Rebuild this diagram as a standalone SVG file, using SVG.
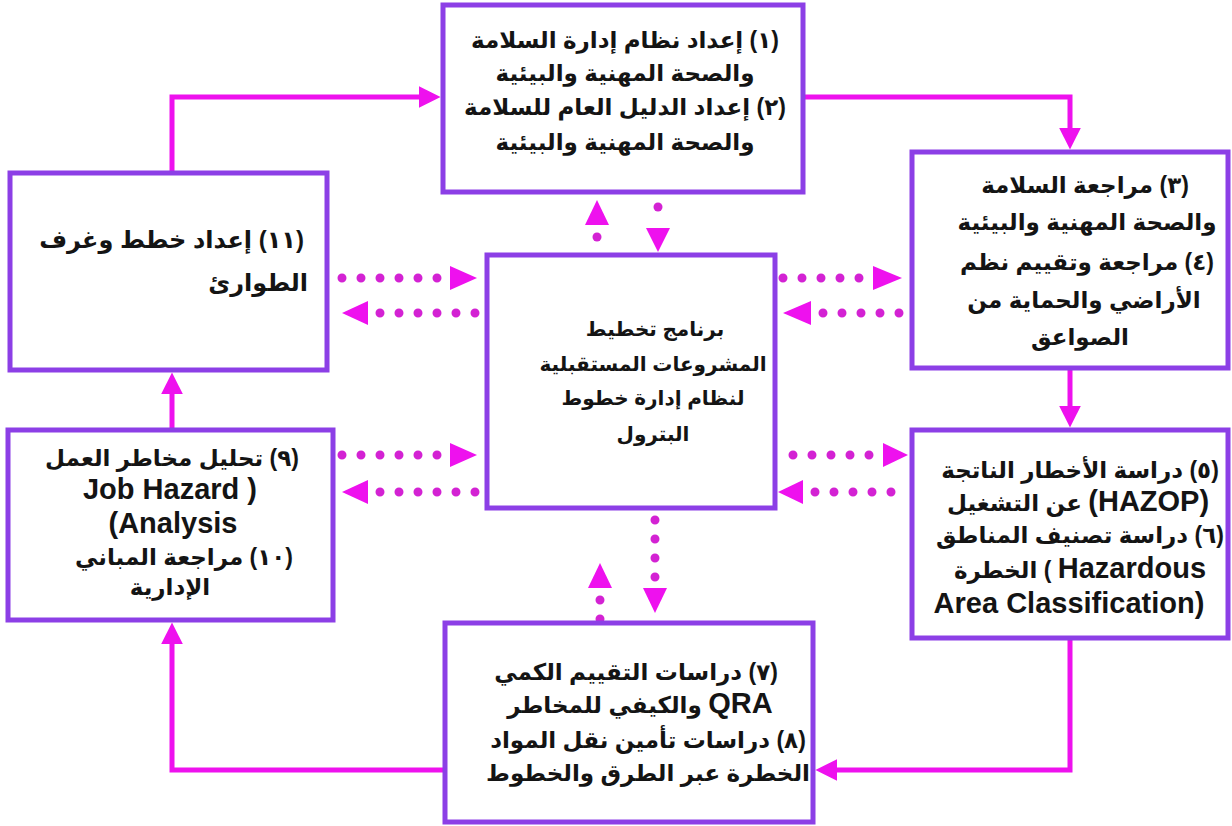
<svg xmlns="http://www.w3.org/2000/svg" width="1232" height="826" viewBox="0 0 1232 826">
  <style>
    .box { fill: #ffffff; stroke: #8c3fe6; stroke-width: 5; }
    .flow { fill: none; stroke: #ee11ee; stroke-width: 5; marker-end: url(#head); }
    .dots { fill: none; stroke: #d322d3; stroke-width: 9; stroke-linecap: round; stroke-dasharray: 0 19; }
    .tri { fill: #ee11ee; }
    text { font-family: "Liberation Sans", "DejaVu Sans", sans-serif; font-weight: bold; font-size: 23px; fill: #141414; }
    .rtl { direction: rtl; text-anchor: middle; }
    .ltr { direction: ltr; text-anchor: middle; }
    .right { direction: rtl; text-anchor: start; }
    .en { font-size: 29px; }
    .mid { font-size: 20px; }
  </style>
  <defs>
    <marker id="head" viewBox="0 0 10 10" refX="2" refY="5" markerWidth="22" markerHeight="22" markerUnits="userSpaceOnUse" orient="auto">
      <path d="M0,0 L10,5 L0,10 z" fill="#ee11ee"/>
    </marker>
  </defs>

  <rect width="1232" height="826" fill="#ffffff"/>

  <!-- solid cycle between the outer boxes -->
  <g id="connectors">
    <path class="flow" d="M172 172 V97 H423"/>
    <path class="flow" d="M803 97 H1070 V132"/>
    <path class="flow" d="M1070 368 V410"/>
    <path class="flow" d="M1070 638 V770 H833"/>
    <path class="flow" d="M445 770 H172 V640"/>
    <path class="flow" d="M172 430 V390"/>

    <!-- dotted two-way links to the central programme -->
    <path class="dots" d="M342 278 H440"/>
    <polygon class="tri" points="450,266 477,278 450,290"/>
    <polygon class="tri" points="342,313 368,301 368,325"/>
    <path class="dots" d="M380 313 H478"/>

    <path class="dots" d="M783 278 H862"/>
    <polygon class="tri" points="873,266 902,278 873,290"/>
    <polygon class="tri" points="783,313 811,301 811,325"/>
    <path class="dots" d="M823 313 H904"/>

    <path class="dots" d="M793 455 H872"/>
    <polygon class="tri" points="883,443 908,455 883,467"/>
    <polygon class="tri" points="778,492 803,480 803,504"/>
    <path class="dots" d="M815 492 H910"/>

    <path class="dots" d="M342 455 H440"/>
    <polygon class="tri" points="450,443 477,455 450,467"/>
    <polygon class="tri" points="342,492 368,480 368,504"/>
    <path class="dots" d="M380 492 H478"/>

    <polygon class="tri" points="597,200 585,225 609,225"/>
    <path class="dots" d="M597 237 V253"/>
    <path class="dots" d="M658 207 V226"/>
    <polygon class="tri" points="646,228 670,228 658,252"/>

    <polygon class="tri" points="600,563 588,588 612,588"/>
    <path class="dots" d="M600 600 V620"/>
    <path class="dots" d="M655 520 V578"/>
    <polygon class="tri" points="643,588 667,588 655,613"/>
  </g>

  <g id="node-1-2">
    <rect class="box" x="443" y="5" width="360" height="187"/>
    <text class="rtl" x="625" y="48">(١) إعداد نظام إدارة السلامة</text>
    <text class="rtl" x="625" y="81">والصحة المهنية والبيئية</text>
    <text class="rtl" x="625" y="115">(٢) إعداد الدليل العام للسلامة</text>
    <text class="rtl" x="625" y="150">والصحة المهنية والبيئية</text>
  </g>

  <g id="node-3-4">
    <rect class="box" x="912" y="152" width="316" height="216"/>
    <text class="rtl" x="1085" y="193">(٣) مراجعة السلامة</text>
    <text class="rtl" x="1087" y="230">والصحة المهنية والبيئية</text>
    <text class="rtl" x="1087" y="270">(٤) مراجعة وتقييم نظم</text>
    <text class="rtl" x="1084" y="308">الأراضي والحماية من</text>
    <text class="rtl" x="1080" y="345">الصواعق</text>
  </g>

  <g id="node-5-6">
    <rect class="box" x="912" y="430" width="316" height="208"/>
    <text class="rtl" x="1080" y="478">(٥) دراسة الأخطار الناتجة</text>
    <text class="ltr" x="1078" y="511">عن التشغيل <tspan class="en">(HAZOP)</tspan></text>
    <text class="rtl" x="1080" y="543">(٦) دراسة تصنيف المناطق</text>
    <text class="ltr" x="1080" y="578">الخطرة ( <tspan class="en">Hazardous</tspan></text>
    <text class="ltr en" x="1069" y="613">Area Classification)</text>
  </g>

  <g id="node-11">
    <rect class="box" x="10" y="173" width="317" height="197"/>
    <text class="right" x="304" y="248" style="font-size:24px">(١١) إعداد خطط وغرف</text>
    <text class="right" x="308" y="291" style="font-size:24px">الطوارئ</text>
  </g>

  <g id="node-9-10">
    <rect class="box" x="8" y="430" width="325" height="190"/>
    <text class="rtl" x="172" y="466">(٩) تحليل مخاطر العمل</text>
    <text class="ltr en" x="170" y="499">Job Hazard )</text>
    <text class="ltr en" x="173" y="533">(Analysis</text>
    <text class="rtl" x="184" y="565">(١٠) مراجعة المباني</text>
    <text class="rtl" x="170" y="595">الإدارية</text>
  </g>

  <g id="node-center">
    <rect class="box" x="487" y="255" width="288" height="253"/>
    <text class="rtl mid" x="655" y="336">برنامج تخطيط</text>
    <text class="rtl mid" x="653" y="371">المشروعات المستقبلية</text>
    <text class="rtl mid" x="653" y="405">لنظام إدارة خطوط</text>
    <text class="rtl mid" x="653" y="441">البترول</text>
  </g>

  <g id="node-7-8">
    <rect class="box" x="445" y="623" width="368" height="199"/>
    <text class="rtl" x="636" y="680">(٧) دراسات التقييم الكمي</text>
    <text class="ltr" x="640" y="713">والكيفي للمخاطر  <tspan class="en">QRA</tspan></text>
    <text class="rtl" x="648" y="748">(٨) دراسات تأمين نقل المواد</text>
    <text class="rtl" x="648" y="781">الخطرة عبر الطرق والخطوط</text>
  </g>
</svg>
